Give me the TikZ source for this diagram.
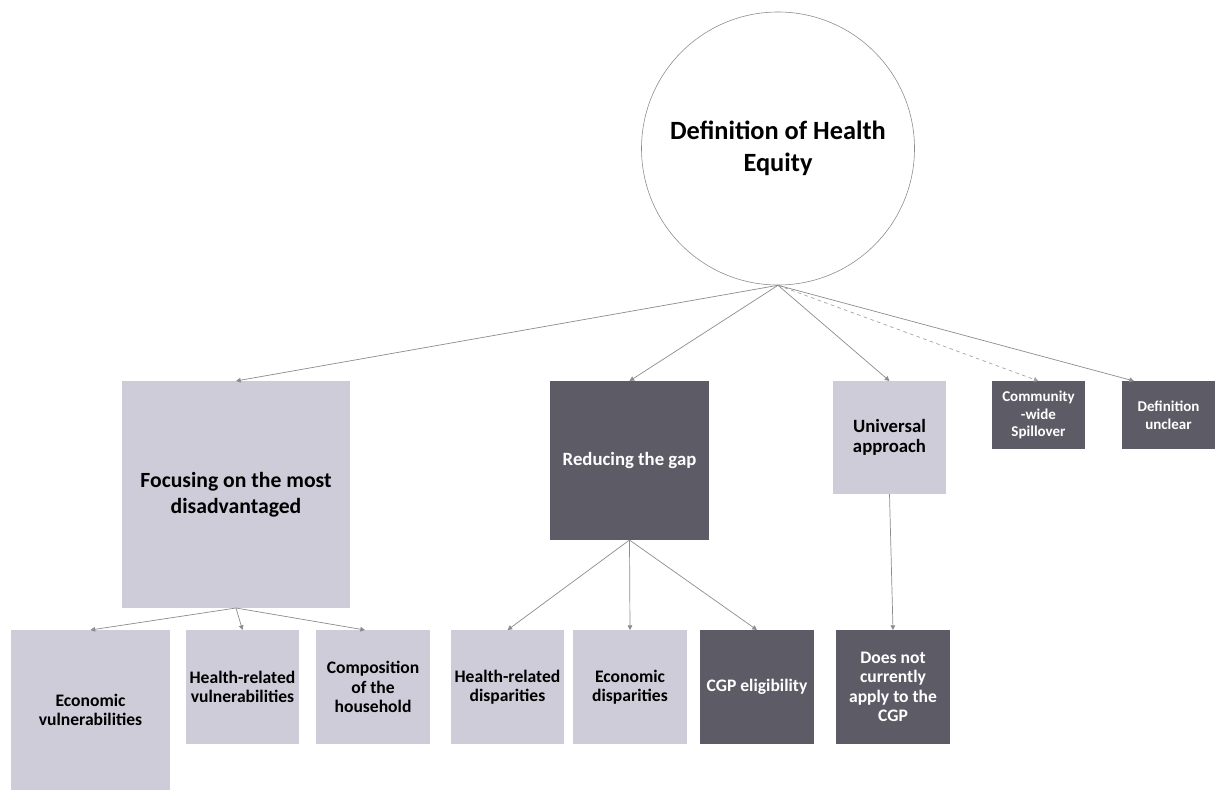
\documentclass[tikz,border=0pt]{standalone}
\usepackage{fontspec}
\setmainfont{Carlito}
\usepackage{xcolor}
\usepackage{tikz}
\usetikzlibrary{arrows.meta}
\definecolor{boxlight}{HTML}{CDCCD8}
\definecolor{boxdark}{HTML}{5D5C66}
\definecolor{linegray}{HTML}{8C8C8C}

\begin{document}
\begin{tikzpicture}[
  root/.style={circle, draw=linegray, fill=white, line width=0.5pt, minimum size=8.19cm,
               inner sep=0pt, align=center, font=\bfseries\fontsize{22.5}{27}\selectfont},
  light/.style={rectangle, fill=boxlight, inner sep=1pt, outer sep=0pt, align=center,
                font=\bfseries\fontsize{15}{16.5}\selectfont},
  dark/.style={rectangle, fill=boxdark, text=white, inner sep=1pt, outer sep=0pt, align=center,
               font=\bfseries\fontsize{15}{16.5}\selectfont},
  arrow/.style={-{Triangle[width=4pt,length=4pt]}, draw=linegray, line width=0.6pt},
  maybe/.style={arrow, dashed, draw=linegray!80}
]
\useasboundingbox (0,0) rectangle (36.45,-23.7);

% Top: the definition
\node[root] (def) at (23.34,-4.455) {Definition of Health\\Equity};

% Layer 2: the approaches
\node[light, minimum width=6.84cm, minimum height=6.81cm,
      font=\bfseries\fontsize{18.5}{22}\selectfont] (focus) at (7.08,-14.835)
      {Focusing on the most\\disadvantaged};
\node[dark, minimum width=4.77cm, minimum height=4.77cm,
      font=\bfseries\fontsize{16}{18}\selectfont] (gap) at (18.885,-13.815) {Reducing the gap};
\node[light, minimum width=3.39cm, minimum height=3.39cm,
      font=\bfseries\fontsize{16}{17}\selectfont] (universal) at (26.685,-13.125) {Universal\\approach};
\node[dark, minimum width=2.79cm, minimum height=2.04cm,
      font=\bfseries\fontsize{12.8}{15}\selectfont] (spill) at (31.155,-12.45) {Community\\-wide\\Spillover};
\node[dark, minimum width=2.79cm, minimum height=2.04cm,
      font=\bfseries\fontsize{12.8}{15}\selectfont] (unclear) at (35.055,-12.45) {Definition\\unclear};

% Layer 3: what each approach looks at
\node[light, minimum width=4.77cm, minimum height=4.8cm] (econvul) at (2.715,-21.3) {Economic\\vulnerabilities};
\node[light, minimum width=3.39cm, minimum height=3.42cm] (hrvul) at (7.275,-20.61) {Health-related\\vulnerabilities};
\node[light, minimum width=3.42cm, minimum height=3.42cm] (house) at (11.19,-20.61) {Composition\\of the\\household};
\node[light, minimum width=3.39cm, minimum height=3.42cm] (hrdisp) at (15.225,-20.61) {Health-related\\disparities};
\node[light, minimum width=3.42cm, minimum height=3.42cm] (ecodisp) at (18.9,-20.61) {Economic\\disparities};
\node[dark, minimum width=3.42cm, minimum height=3.42cm] (cgp) at (22.71,-20.61) {CGP eligibility};
\node[dark, minimum width=3.42cm, minimum height=3.42cm] (notcgp) at (26.79,-20.61) {Does not\\currently\\apply to the\\CGP};

% Arrows - from the definition
\draw[arrow] (def.south) -- (focus.north);
\draw[arrow] (def.south) -- (gap.north);
\draw[arrow] (def.south) -- (universal.north);
\draw[maybe] (def.south) -- (spill.north);
\draw[arrow] (def.south) -- ([xshift=0.36cm]unclear.north west);

% Arrows - second level
\draw[arrow] (focus.south) -- (econvul.north);
\draw[arrow] (focus.south) -- (hrvul.north);
\draw[arrow] (focus.south) -- ([xshift=-0.24cm]house.north);
\draw[arrow] (gap.south) -- (hrdisp.north);
\draw[arrow] (gap.south) -- (ecodisp.north);
\draw[arrow] (gap.south) -- (cgp.north);
\draw[arrow] (universal.south) -- (notcgp.north);

\end{tikzpicture}
\end{document}
